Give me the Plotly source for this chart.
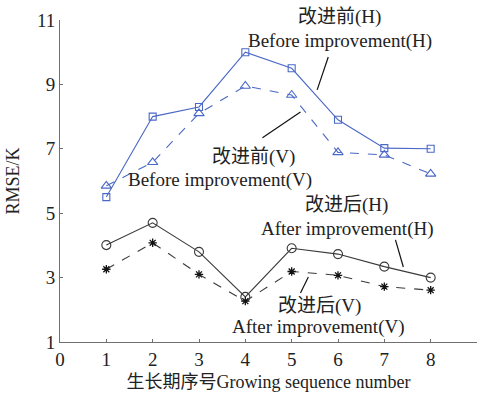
import plotly.graph_objects as go

# Growing-season sequence numbers and RMSE (K) per retrieval scheme
seq = [1, 2, 3, 4, 5, 6, 7, 8]
before_h = [5.5, 8.0, 8.3, 10.0, 9.5, 7.9, 7.02, 7.0]
before_v = [5.85, 6.58, 8.1, 8.95, 8.67, 6.89, 6.81, 6.22]
after_h = [4.01, 4.7, 3.8, 2.4, 3.91, 3.73, 3.34, 3.0]
after_v = [3.26, 4.08, 3.1, 2.27, 3.19, 3.07, 2.72, 2.61]

x_ticks = list(range(0, 10))
y_ticks = [1, 3, 5, 7, 9, 11]

BLUE = "#4a68c6"
DARK = "#3a3a3a"
FONT = "Liberation Serif, Times New Roman, Noto Sans CJK SC, serif"

fig = go.Figure()

fig.add_trace(go.Scatter(
    x=seq, y=before_h, mode="lines+markers",
    line=dict(color=BLUE, width=1.1),
    marker=dict(symbol="square-open", size=7, color=BLUE, line=dict(width=1.1)),
))
fig.add_trace(go.Scatter(
    x=seq, y=before_v, mode="lines+markers",
    line=dict(color=BLUE, width=1.1, dash="dash"),
    marker=dict(symbol="triangle-up-open", size=9, color=BLUE, line=dict(width=1.1)),
))
fig.add_trace(go.Scatter(
    x=seq, y=after_h, mode="lines+markers",
    line=dict(color=DARK, width=1.1),
    marker=dict(symbol="circle-open", size=9, color=DARK, line=dict(width=1.1)),
))
fig.add_trace(go.Scatter(
    x=seq, y=after_v, mode="lines+markers",
    line=dict(color=DARK, width=1.1, dash="dash"),
    marker=dict(symbol="asterisk-open", size=7, color="#111", line=dict(width=1.3)),
))

# Series labels (Chinese line above English line), in paper coordinates
labels = [
    ("改进前(H)", 0.671, 1.009), ("Before improvement(H)", 0.671, 0.934),
    ("改进前(V)", 0.465, 0.575), ("Before improvement(V)", 0.384, 0.503),
    ("改进后(H)", 0.688, 0.425), ("After improvement(H)", 0.690, 0.351),
    ("改进后(V)", 0.623, 0.112), ("After improvement(V)", 0.621, 0.047),
]
for text, lx, ly in labels:
    fig.add_annotation(x=lx, y=ly, xref="paper", yref="paper", text=text, showarrow=False,
                       xanchor="center", yanchor="middle",
                       font=dict(family=FONT, size=19, color="#222"))

# Leader strokes from labels to their curves
leaders = [
    (5.79, 9.85, 5.55, 8.83),
    (5.19, 8.14, 4.37, 7.34),
    (7.24, 4.17, 7.41, 3.33),
    (5.36, 3.02, 5.19, 2.52),
]
for x0, y0, x1, y1 in leaders:
    fig.add_shape(type="line", xref="x", yref="y", x0=x0, y0=y0, x1=x1, y1=y1,
                  line=dict(color="#111", width=1.2))

axis_common = dict(
    showgrid=False, zeroline=False, showline=True, linecolor="#707070", linewidth=1,
    ticks="inside", ticklen=3, tickcolor="#707070",
    tickfont=dict(family=FONT, size=19, color="#222"),
)

fig.update_layout(
    width=481, height=394,
    margin=dict(l=60, r=4, t=20, b=52),
    paper_bgcolor="white", plot_bgcolor="white",
    showlegend=False,
    font=dict(family=FONT, color="#222"),
    xaxis=dict(range=[0, 9], tickvals=x_ticks, **axis_common,
               title=dict(text="生长期序号Growing sequence number",
                          font=dict(family=FONT, size=18), standoff=6)),
    yaxis=dict(range=[1, 11], tickvals=y_ticks, **axis_common,
               title=dict(text="RMSE/K", font=dict(family=FONT, size=18), standoff=12)),
)

fig.write_html("out.html")
